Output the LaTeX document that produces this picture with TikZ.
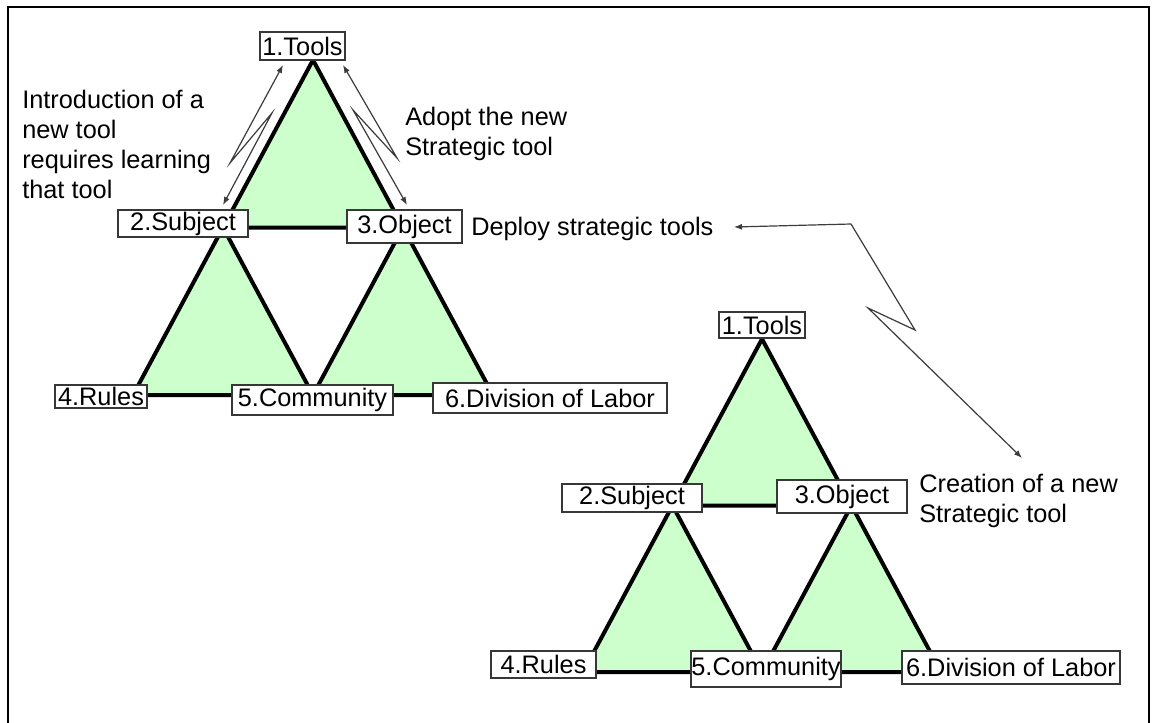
\documentclass[tikz,border=0pt]{standalone}
\usepackage{fontspec}
\setmainfont{Liberation Sans}
\usetikzlibrary{arrows.meta}
\definecolor{triFill}{RGB}{204,255,204}
\definecolor{boxLine}{RGB}{55,55,55}
\definecolor{arrowLine}{RGB}{60,60,60}
\begin{document}
\begin{tikzpicture}[x=0.75pt,y=-0.75pt,
  txt/.style={font=\fontsize{19}{22.5}\selectfont},
  labelbox/.style={txt, draw=boxLine, line width=1pt, fill=white, inner sep=0pt},
  sz/.style 2 args={minimum width=#1*0.75pt, minimum height=#2*0.75pt},
  note/.style={txt, inner sep=0pt, align=left, anchor=north west},
  tri/.style={fill=triFill, draw=black, line width=3pt, line join=miter},
  zig/.style={draw=arrowLine, line width=0.9pt, line join=miter,
    {Latex[length=6pt,width=4.5pt]}-{Latex[length=6pt,width=4.5pt]}}
]
\useasboundingbox (0,0) rectangle (1152,722);
\fill[white] (0,0) rectangle (1152,722);

% outer frame (its lower edge lies below the page)
\draw[line width=2pt] (8,730) |- (1149,7) -- (1149,730);

% ---------- first activity system ----------
\coordinate (uT)  at (313,60);
\coordinate (uL)  at (133,395);
\coordinate (uR)  at (493,395);
\coordinate (uML) at (223,227.5);
\coordinate (uMR) at (403,227.5);
\coordinate (uMB) at (313,395);
\draw[tri] (uT) -- (uML) -- (uMR) -- cycle;
\draw[tri] (uML) -- (uL) -- (uMB) -- cycle;
\draw[tri] (uMR) -- (uMB) -- (uR) -- cycle;

\node[labelbox, sz={85}{28}]  (t1) at (302.5,46)  {1.Tools};
\node[labelbox, sz={130}{27}] (s1) at (183,223.5) {2.Subject};
\node[labelbox, sz={115}{33}] (o1) at (404.5,226.5) {3.Object};
\node[labelbox, sz={92}{23}]  (r1) at (101,396.5) {4.Rules};
\node[labelbox, sz={161}{30}] (c1) at (312.5,400) {5.Community};
\node[labelbox, sz={234}{30}] (d1) at (550,398)   {6.Division of Labor};

% ---------- second activity system ----------
\coordinate (lT)  at (762,339);
\coordinate (lL)  at (583,672);
\coordinate (lR)  at (941,672);
\coordinate (lML) at (672.5,505.5);
\coordinate (lMR) at (851.5,505.5);
\coordinate (lMB) at (762,672);
\draw[tri] (lT) -- (lML) -- (lMR) -- cycle;
\draw[tri] (lML) -- (lL) -- (lMB) -- cycle;
\draw[tri] (lMR) -- (lMB) -- (lR) -- cycle;

\node[labelbox, sz={86}{26}]  (t2) at (762,325)    {1.Tools};
\node[labelbox, sz={140}{28}] (s2) at (632,498)    {2.Subject};
\node[labelbox, sz={130}{33}] (o2) at (842,496.5)  {3.Object};
\node[labelbox, sz={105}{27}] (r2) at (543.5,664.5) {4.Rules};
\node[labelbox, sz={150}{36}] (c2) at (766,669)    {5.Community};
\node[labelbox, sz={218}{33}] (d2) at (1011,667.5) {6.Division of Labor};

% ---------- annotations ----------
\node[note] (introNote) at (22,89.5) {Introduction of a\\new tool\\requires learning\\that tool};
\node[note] (adoptNote) at (405,106.5) {Adopt the new\\Strategic tool};
\node[txt, inner sep=0pt, anchor=base west] (deployNote) at (471,235) {Deploy strategic tools};
\node[note] (creationNote) at (919,473.5) {Creation of a new\\Strategic tool};

% ---------- lightning connectors ----------
\coordinate (la) at (283,65);
\coordinate (lb) at (230,163);
\coordinate (lc) at (272,113);
\coordinate (ld) at (223,205);
\draw[zig] (la) -- (lb) -- (lc) -- (ld);

\coordinate (ra) at (343,65);
\coordinate (rb) at (397,158);
\coordinate (rc) at (353,110);
\coordinate (rd) at (407,205);
\draw[zig] (ra) -- (rb) -- (rc) -- (rd);

\coordinate (da) at (734,227);
\coordinate (db) at (851,224);
\coordinate (dc) at (915,330);
\coordinate (dd) at (868,308);
\coordinate (de) at (1022,458);
\draw[zig] (da) -- (db) -- (dc) -- (dd) -- (de);
\end{tikzpicture}
\end{document}
